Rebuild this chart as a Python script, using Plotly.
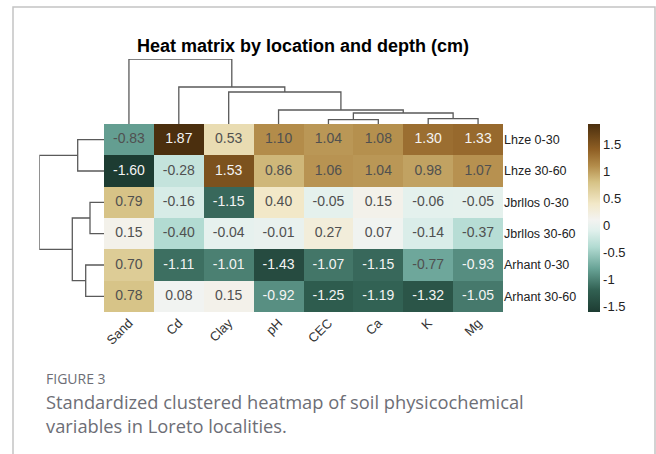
import plotly.graph_objects as go

W, H = 656, 454

# ---------------- data ----------------
col_labels = ["Sand", "Cd", "Clay", "pH", "CEC", "Ca", "K", "Mg"]
row_labels = ["Lhze 0-30", "Lhze 30-60", "Jbrllos 0-30", "Jbrllos 30-60",
              "Arhant 0-30", "Arhant 30-60"]

lhze_0_30 = [-0.83, 1.87, 0.53, 1.10, 1.04, 1.08, 1.30, 1.33]
lhze_30_60 = [-1.60, -0.28, 1.53, 0.86, 1.06, 1.04, 0.98, 1.07]
jbrllos_0_30 = [0.79, -0.16, -1.15, 0.40, -0.05, 0.15, -0.06, -0.05]
jbrllos_30_60 = [0.15, -0.40, -0.04, -0.01, 0.27, 0.07, -0.14, -0.37]
arhant_0_30 = [0.70, -1.11, -1.01, -1.43, -1.07, -1.15, -0.77, -0.93]
arhant_30_60 = [0.78, 0.08, 0.15, -0.92, -1.25, -1.19, -1.32, -1.05]

colorbar_ticks = [-1.5, -1, -0.5, 0, 0.5, 1, 1.5]
colorbar_ticktext = ["-1.5", "-1", "-0.5", "0", "0.5", "1", "1.5"]

# dendrogram structure (hclust-like merges: child a, child b, height)
col_merge_a = [4, 6, 8, 3, 2, 1, 0]
col_merge_b = [5, 7, 9, 10, 11, 12, 13]
col_merge_h = [0.43, 0.53, 1.10, 1.40, 3.20, 3.70, 6.50]

row_merge_a = [0, 2, 4, 7, 6]
row_merge_b = [1, 3, 5, 8, 9]
row_merge_h = [2.63, 1.40, 1.83, 3.17, 6.47]

title = "Heat matrix by location and depth (cm)"
fig_label = "FIGURE 3"
caption_lines = ["Standardized clustered heatmap of soil physicochemical",
                 "variables in Loreto localities."]

values = [lhze_0_30, lhze_30_60, jbrllos_0_30, jbrllos_30_60, arhant_0_30, arhant_30_60]
zmin = min(min(r) for r in values)
zmax = max(max(r) for r in values)

# ---------------- layout constants (pixels) ----------------
HM_L, HM_R, HM_T, HM_B = 104, 503, 124, 312
PX_PER_UNIT = 10.0


def px_x(p):
    return p / W


def px_y(p):
    return 1 - p / H


def dendro_segments(n, a, b, h):
    pos = list(range(n))
    ht = [0.0] * n
    ps, hs = [], []
    for i in range(len(a)):
        pa, pb = pos[a[i]], pos[b[i]]
        ha, hb = ht[a[i]], ht[b[i]]
        ps += [pa, pa, pb, pb, None]
        hs += [ha, h[i], h[i], hb, None]
        pos.append((pa + pb) / 2)
        ht.append(h[i])
    return ps, hs


def norm(v):
    return (v - zmin) / (zmax - zmin)


colorscale = [
    [norm(-1.60), "#1d3c32"],
    [norm(-1.20), "#316052"],
    [norm(-0.80), "#68a396"],
    [norm(-0.40), "#b2dbd2"],
    [norm(-0.10), "#e0f0ec"],
    [norm(0.10), "#f3f3f1"],
    [norm(0.40), "#f2e8c8"],
    [norm(0.80), "#d6c285"],
    [norm(1.10), "#b38c4a"],
    [norm(1.40), "#8f5f24"],
    [norm(1.87), "#4b2f0e"],
]
colorscale[0][0] = 0.0
colorscale[-1][0] = 1.0

ncol, nrow = len(col_labels), len(row_labels)

fig = go.Figure()

fig.add_trace(go.Heatmap(
    x=list(range(ncol)), y=list(range(nrow)), z=values,
    zmin=zmin, zmax=zmax, colorscale=colorscale,
    xaxis="x", yaxis="y", hoverinfo="skip",
    colorbar=dict(
        x=px_x(588), xanchor="left", xref="paper",
        y=px_y((HM_T + HM_B) / 2), yanchor="middle", yref="paper",
        len=HM_B - HM_T, lenmode="pixels",
        thickness=12, thicknessmode="pixels",
        outlinewidth=0, ticks="", ypad=0, xpad=0,
        tickvals=colorbar_ticks, ticktext=colorbar_ticktext,
        tickfont=dict(family="Liberation Sans, Arial", size=13, color="#222"),
    ),
))

tx, ty, tt, tc = [], [], [], []
for i, row in enumerate(values):
    for j, v in enumerate(row):
        tx.append(j)
        ty.append(i)
        tt.append(f"{v:.2f}")
        tc.append("#f4f4f4" if (v > 1.2 or v < -0.9) else "#505050")

fig.add_trace(go.Scatter(
    x=tx, y=ty, text=tt, mode="text", xaxis="x", yaxis="y",
    textfont=dict(family="Liberation Sans, Arial", size=14, color=tc),
    hoverinfo="skip", showlegend=False,
))

cx, cy = dendro_segments(ncol, col_merge_a, col_merge_b, col_merge_h)
fig.add_trace(go.Scatter(
    x=cx, y=cy, mode="lines", xaxis="x2", yaxis="y2",
    line=dict(color="#5a5a5a", width=1.3), hoverinfo="skip",
    showlegend=False, cliponaxis=False,
))

ry, rx = dendro_segments(nrow, row_merge_a, row_merge_b, row_merge_h)
fig.add_trace(go.Scatter(
    x=rx, y=ry, mode="lines", xaxis="x3", yaxis="y3",
    line=dict(color="#5a5a5a", width=1.3), hoverinfo="skip",
    showlegend=False, cliponaxis=False,
))

col_top = HM_T - max(col_merge_h) * PX_PER_UNIT
row_left = HM_L - max(row_merge_h) * PX_PER_UNIT

hidden = dict(visible=False, showgrid=False, zeroline=False)

fig.update_layout(
    width=W, height=H,
    margin=dict(l=0, r=0, t=0, b=0),
    paper_bgcolor="white", plot_bgcolor="white",
    showlegend=False,
    xaxis=dict(domain=[px_x(HM_L), px_x(HM_R)], range=[-0.5, ncol - 0.5],
               tickvals=list(range(ncol)), ticktext=col_labels, tickangle=-45,
               showgrid=False, zeroline=False, showline=False, ticks="",
               tickfont=dict(family="Liberation Sans, Arial", size=13, color="#333"),
               anchor="y"),
    yaxis=dict(domain=[px_y(HM_B), px_y(HM_T)], range=[nrow - 0.5, -0.5],
               tickvals=list(range(nrow)), ticktext=row_labels, side="right",
               showgrid=False, zeroline=False, showline=False, ticks="",
               tickfont=dict(family="Liberation Sans, Arial", size=12.5, color="#222"),
               anchor="x"),
    xaxis2=dict(domain=[px_x(HM_L), px_x(HM_R)], range=[-0.5, ncol - 0.5],
                anchor="y2", **hidden),
    yaxis2=dict(domain=[px_y(HM_T), px_y(col_top)], range=[0, max(col_merge_h)],
                anchor="x2", **hidden),
    xaxis3=dict(domain=[px_x(row_left), px_x(HM_L)], range=[max(row_merge_h), 0],
                anchor="y3", **hidden),
    yaxis3=dict(domain=[px_y(HM_B), px_y(HM_T)], range=[nrow - 0.5, -0.5],
                anchor="x3", **hidden),
    shapes=[dict(type="path", xref="paper", yref="paper",
                 path=f"M {px_x(13)},{px_y(455)} L {px_x(13)},{px_y(7)} "
                      f"L {px_x(655)},{px_y(7)} L {px_x(655)},{px_y(455)}",
                 line=dict(color="#c4c4c4", width=1.5))],
    annotations=[
        dict(text=f"<b>{title}</b>", x=px_x(303), y=px_y(46), xref="paper", yref="paper",
             showarrow=False, xanchor="center", yanchor="middle",
             font=dict(family="Liberation Sans, Arial", size=18, color="#000")),
        dict(text=fig_label, x=px_x(44), y=px_y(378), xref="paper", yref="paper",
             showarrow=False, xanchor="left", yanchor="middle",
             font=dict(family="Open Sans", size=14, color="#6d6e76")),
        dict(text=caption_lines[0], x=px_x(44), y=px_y(401), xref="paper", yref="paper",
             showarrow=False, xanchor="left", yanchor="middle",
             font=dict(family="Open Sans", size=18.3, color="#6d6e76")),
        dict(text=caption_lines[1], x=px_x(44), y=px_y(425), xref="paper", yref="paper",
             showarrow=False, xanchor="left", yanchor="middle",
             font=dict(family="Open Sans", size=18.3, color="#6d6e76")),
    ],
)

fig.write_html("out.html", post_script="document.body.style.margin='0';",
               config={"displayModeBar": False})
